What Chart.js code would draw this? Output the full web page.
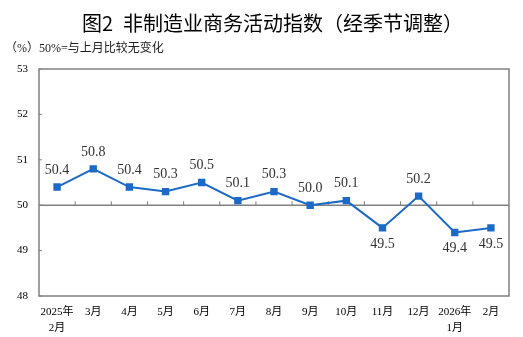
<!DOCTYPE html>
<html>
<head>
<meta charset="utf-8">
<script src="https://cdn.jsdelivr.net/npm/chart.js@4"></script>
<style>
  html, body { margin: 0; padding: 0; background: #fff; }
  #wrap { position: relative; width: 523px; height: 337px; }
  #title {
    position: absolute; left: 82px; top: 8px;
    font-family: "Noto Sans CJK SC", sans-serif; font-size: 20px; font-weight: 400;
    color: #000; white-space: nowrap;
  }
  #note {
    position: absolute; left: 5px; top: 38px;
    font-family: "Liberation Serif", "Noto Sans CJK SC", serif; font-size: 12px;
    color: #222; white-space: nowrap;
  }
</style>
</head>
<body>
<div id="wrap">
  <canvas id="chart" width="523" height="337"></canvas>
  <div id="title">图2&ensp;非制造业商务活动指数（经季节调整）</div>
  <div id="note">（%）50%=与上月比较无变化</div>
</div>
<script>
// months on the x axis (two-line labels where the year changes)
const months = [
  ["2025年", "2月"], "3月", "4月", "5月", "6月", "7月", "8月",
  "9月", "10月", "11月", "12月", ["2026年", "1月"], "2月"
];
const index = [50.4, 50.8, 50.4, 50.3, 50.5, 50.1, 50.3, 50.0, 50.1, 49.5, 50.2, 49.4, 49.5];
// which labels sit below their point
const labelBelow = [false, false, false, false, false, false, false, false, false, true, false, true, true];
const yTicks = [48, 49, 50, 51, 52, 53];

const lineColor = "#1c6ac6";
const axisColor = "#808080";
const serif = "'Liberation Serif', 'Noto Sans CJK SC', serif";

// frame, the 50 reference line and the small inward tick marks
const framePlugin = {
  id: "frame",
  beforeDatasetsDraw(chart) {
    const { ctx, chartArea: a, scales } = chart;
    const y50 = scales.y.getPixelForValue(50);
    ctx.save();
    ctx.strokeStyle = axisColor;
    ctx.lineWidth = 1.5;
    ctx.strokeRect(a.left, a.top, a.right - a.left, a.bottom - a.top);
    ctx.beginPath();
    ctx.moveTo(a.left, y50);
    ctx.lineTo(a.right, y50);
    ctx.stroke();
    ctx.lineWidth = 1;
    ctx.beginPath();
    yTicks.forEach(v => {
      const y = scales.y.getPixelForValue(v);
      ctx.moveTo(a.left, y);
      ctx.lineTo(a.left + 3, y);
    });
    for (let i = 0; i < months.length - 1; i++) {
      const x = (scales.x.getPixelForValue(i) + scales.x.getPixelForValue(i + 1)) / 2;
      ctx.moveTo(x, y50);
      ctx.lineTo(x, y50 - 4);
    }
    ctx.stroke();
    ctx.restore();
  }
};

// value labels above / below each point
const labelPlugin = {
  id: "valueLabels",
  afterDatasetsDraw(chart) {
    const { ctx } = chart;
    const meta = chart.getDatasetMeta(0);
    ctx.save();
    ctx.font = "14px " + serif;
    ctx.fillStyle = "#333";
    ctx.textAlign = "center";
    ctx.textBaseline = "middle";
    meta.data.forEach((pt, i) => {
      const dy = labelBelow[i] ? 16 : -17;
      ctx.fillText(index[i].toFixed(1), pt.x, pt.y + dy);
    });
    ctx.restore();
  }
};

new Chart(document.getElementById("chart"), {
  type: "line",
  data: {
    labels: months,
    datasets: [{
      data: index,
      borderColor: lineColor,
      backgroundColor: lineColor,
      borderWidth: 2,
      pointStyle: "rect",
      pointRadius: 3.8,
      pointHoverRadius: 3.8,
      tension: 0
    }]
  },
  options: {
    responsive: false,
    animation: false,
    layout: { padding: { top: 69, right: 14, left: 0, bottom: 0 } },
    plugins: {
      legend: { display: false },
      tooltip: { enabled: false }
    },
    scales: {
      x: {
        offset: true,
        border: { display: false },
        grid: { display: false, drawTicks: false },
        ticks: {
          color: "#000",
          font: { family: serif, size: 11, lineHeight: 1.45 },
          padding: 8,
          maxRotation: 0,
          autoSkip: false
        },
        afterFit(scale) { scale.height = 41; }
      },
      y: {
        min: 48,
        max: 53,
        border: { display: false },
        grid: { display: false, drawTicks: false },
        ticks: {
          stepSize: 1,
          color: "#000",
          font: { family: serif, size: 11 },
          padding: 11
        },
        afterFit(scale) { scale.width = 39; }
      }
    }
  },
  plugins: [framePlugin, labelPlugin]
});
</script>
</body>
</html>
